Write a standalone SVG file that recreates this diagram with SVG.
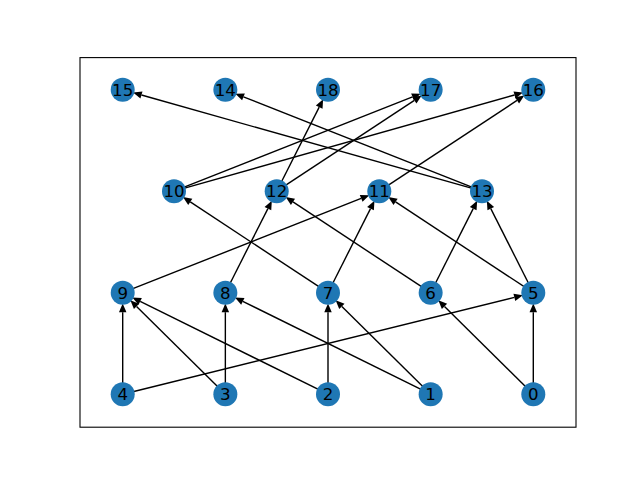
<svg xmlns="http://www.w3.org/2000/svg" width="640" height="480" viewBox="0 0 640 480">
<style>
.e{stroke:#000;stroke-width:1.4;fill:none;marker-end:url(#ah)}
.n circle{fill:#1f77b4}
.n text{font-family:"DejaVu Sans",sans-serif;font-size:16.67px;fill:#000;text-anchor:middle}
</style>
<defs>
<marker id="ah" markerUnits="userSpaceOnUse" markerWidth="10" markerHeight="10" viewBox="0 -4 8 8" refX="0" refY="0" orient="auto" overflow="visible">
<path d="M0,-3 L7,0 L0,3 z" fill="#000"/>
</marker>
</defs>
<rect width="640" height="480" fill="#fff"/>
<rect x="80" y="57.6" width="496" height="369.6" fill="none" stroke="#000" stroke-width="1.1"/>
<g id="edges">
<line class="e" x1="122.7" y1="394.2" x2="122.7" y2="312.2"/>
<line class="e" x1="122.7" y1="394.2" x2="514.37" y2="297.38"/>
<line class="e" x1="225.35" y1="394.2" x2="136.57" y2="306.41"/>
<line class="e" x1="225.35" y1="394.2" x2="225.35" y2="312.2"/>
<line class="e" x1="328" y1="394.2" x2="140.18" y2="301.34"/>
<line class="e" x1="328" y1="394.2" x2="328" y2="312.2"/>
<line class="e" x1="430.65" y1="394.2" x2="242.83" y2="301.34"/>
<line class="e" x1="430.65" y1="394.2" x2="341.87" y2="306.41"/>
<line class="e" x1="533.3" y1="394.2" x2="444.52" y2="306.41"/>
<line class="e" x1="533.3" y1="394.2" x2="533.3" y2="312.2"/>
<line class="e" x1="122.7" y1="292.7" x2="361.17" y2="198.37"/>
<line class="e" x1="225.35" y1="292.7" x2="267.9" y2="208.6"/>
<line class="e" x1="328" y1="292.7" x2="190.28" y2="201.93"/>
<line class="e" x1="328" y1="292.7" x2="370.5" y2="208.6"/>
<line class="e" x1="430.65" y1="292.7" x2="292.98" y2="201.93"/>
<line class="e" x1="430.65" y1="292.7" x2="473.2" y2="208.6"/>
<line class="e" x1="533.3" y1="292.7" x2="395.58" y2="201.93"/>
<line class="e" x1="533.3" y1="292.7" x2="490.79" y2="208.6"/>
<line class="e" x1="174" y1="191.2" x2="412.52" y2="96.87"/>
<line class="e" x1="174" y1="191.2" x2="514.53" y2="95"/>
<line class="e" x1="276.7" y1="191.2" x2="319.2" y2="107.1"/>
<line class="e" x1="276.7" y1="191.2" x2="414.37" y2="100.43"/>
<line class="e" x1="379.3" y1="191.2" x2="517.02" y2="100.43"/>
<line class="e" x1="482" y1="191.2" x2="141.47" y2="95"/>
<line class="e" x1="482" y1="191.2" x2="243.48" y2="96.87"/>
</g>
<g id="node0" class="n"><circle cx="533.3" cy="394.2" r="12"/><text x="533.3" y="400.3">0</text></g>
<g id="node1" class="n"><circle cx="430.65" cy="394.2" r="12"/><text x="430.65" y="400.3">1</text></g>
<g id="node2" class="n"><circle cx="328" cy="394.2" r="12"/><text x="328" y="400.3">2</text></g>
<g id="node3" class="n"><circle cx="225.35" cy="394.2" r="12"/><text x="225.35" y="400.3">3</text></g>
<g id="node4" class="n"><circle cx="122.7" cy="394.2" r="12"/><text x="122.7" y="400.3">4</text></g>
<g id="node5" class="n"><circle cx="533.3" cy="292.7" r="12"/><text x="533.3" y="298.8">5</text></g>
<g id="node6" class="n"><circle cx="430.65" cy="292.7" r="12"/><text x="430.65" y="298.8">6</text></g>
<g id="node7" class="n"><circle cx="328" cy="292.7" r="12"/><text x="328" y="298.8">7</text></g>
<g id="node8" class="n"><circle cx="225.35" cy="292.7" r="12"/><text x="225.35" y="298.8">8</text></g>
<g id="node9" class="n"><circle cx="122.7" cy="292.7" r="12"/><text x="122.7" y="298.8">9</text></g>
<g id="node10" class="n"><circle cx="174" cy="191.2" r="12"/><text x="174" y="197.3">10</text></g>
<g id="node12" class="n"><circle cx="276.7" cy="191.2" r="12"/><text x="276.7" y="197.3">12</text></g>
<g id="node11" class="n"><circle cx="379.3" cy="191.2" r="12"/><text x="379.3" y="197.3">11</text></g>
<g id="node13" class="n"><circle cx="482" cy="191.2" r="12"/><text x="482" y="197.3">13</text></g>
<g id="node15" class="n"><circle cx="122.7" cy="89.7" r="12"/><text x="122.7" y="95.8">15</text></g>
<g id="node14" class="n"><circle cx="225.35" cy="89.7" r="12"/><text x="225.35" y="95.8">14</text></g>
<g id="node18" class="n"><circle cx="328" cy="89.7" r="12"/><text x="328" y="95.8">18</text></g>
<g id="node17" class="n"><circle cx="430.65" cy="89.7" r="12"/><text x="430.65" y="95.8">17</text></g>
<g id="node16" class="n"><circle cx="533.3" cy="89.7" r="12"/><text x="533.3" y="95.8">16</text></g>
</svg>
